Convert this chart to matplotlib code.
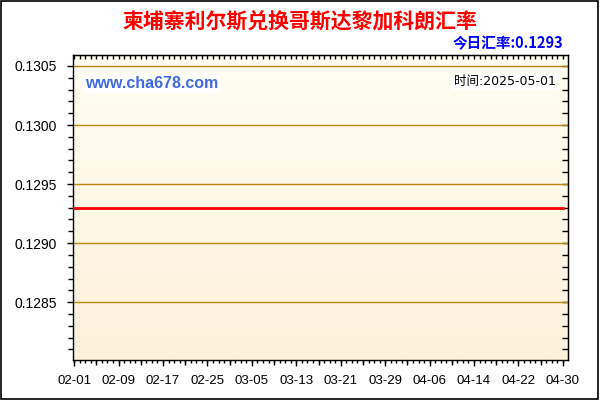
import numpy as np
import pandas as pd
import matplotlib
matplotlib.use("Agg")
import matplotlib.pyplot as plt
from matplotlib.ticker import MultipleLocator

# daily rate, 2025-02-01 .. 2025-04-30
dates = pd.date_range("2025-02-01", "2025-04-30", freq="D")
rate_feb = [0.1293, 0.1293, 0.1293, 0.1293, 0.1293, 0.1293, 0.1293,
            0.1293, 0.1293, 0.1293, 0.1293, 0.1293, 0.1293, 0.1293,
            0.1293, 0.1293, 0.1293, 0.1293, 0.1293, 0.1293, 0.1293,
            0.1293, 0.1293, 0.1293, 0.1293, 0.1293, 0.1293, 0.1293]
rate_mar = [0.1293, 0.1293, 0.1293, 0.1293, 0.1293, 0.1293, 0.1293,
            0.1293, 0.1293, 0.1293, 0.1293, 0.1293, 0.1293, 0.1293,
            0.1293, 0.1293, 0.1293, 0.1293, 0.1293, 0.1293, 0.1293,
            0.1293, 0.1293, 0.1293, 0.1293, 0.1293, 0.1293, 0.1293,
            0.1293, 0.1293, 0.1293]
rate_apr = [0.1293, 0.1293, 0.1293, 0.1293, 0.1293, 0.1293, 0.1293,
            0.1293, 0.1293, 0.1293, 0.1293, 0.1293, 0.1293, 0.1293,
            0.1293, 0.1293, 0.1293, 0.1293, 0.1293, 0.1293, 0.1293,
            0.1293, 0.1293, 0.1293, 0.1293, 0.1293, 0.1293, 0.1293,
            0.1293, 0.1293]
rates = rate_feb + rate_mar + rate_apr

title = "柬埔寨利尔斯兑换哥斯达黎加科朗汇率"
today_text = "今日汇率:0.1293"
site_text = "www.cha678.com"
date_text = "时间:2025-05-01"
y_ticks = [0.1285, 0.1290, 0.1295, 0.1300, 0.1305]

cjk = ["Noto Sans CJK SC", "DejaVu Sans"]

fig = plt.figure(figsize=(6, 4), dpi=100)
fig.patch.set_facecolor("white")
# outer black frame
fig.add_artist(plt.Rectangle((0.002, 0.003), 0.995, 0.994, transform=fig.transFigure,
                             fill=False, edgecolor="black", linewidth=1.2))

ax = fig.add_axes([73 / 600, 1 - 360 / 400, 495 / 600, 305 / 400])

# soft cream gradient background
c_top = np.array([255, 254, 243]) / 255
c_bot = np.array([253, 241, 218]) / 255
t = np.linspace(0, 1, 256)[:, None]
grad = (c_top * (1 - t) + c_bot * t)[:, None, :]
ax.imshow(grad, extent=[0, 1, 0, 1], transform=ax.transAxes, aspect="auto", zorder=0)

for yv in y_ticks:
    ax.axhline(yv, color="#B8860B", linewidth=1, zorder=1)

ax.plot(dates, rates, color="#FF0000", linewidth=2, zorder=3)

ax.set_xlim(dates[0] - pd.Timedelta(hours=5), dates[-1] + pd.Timedelta(hours=22))
ax.set_ylim(0.12801, 0.130593)

ax.set_yticks(y_ticks)
ax.set_yticklabels([f"{v:.4f}" for v in y_ticks])
ax.yaxis.set_minor_locator(MultipleLocator(0.0001))

xt = dates[::8]
ax.set_xticks(xt)
ax.set_xticklabels([d.strftime("%m-%d") for d in xt])
# longer ticks every 4 days
ax.set_xticks(dates[::4], minor=True)

for s in ax.spines.values():
    s.set_color("black")
    s.set_linewidth(1)

ax.tick_params(axis="both", which="major", direction="out", length=4.5, width=1,
               colors="black")
ax.tick_params(axis="both", which="minor", direction="out", length=3.5, width=1)
ax.tick_params(axis="y", which="major", labelsize=10, pad=7)
ax.tick_params(axis="x", which="major", labelsize=9.5, pad=6)
for lab in ax.get_xticklabels() + ax.get_yticklabels():
    lab.set_family("Liberation Sans")

# daily small ticks along bottom
bot = ax.secondary_xaxis("bottom")
bot.set_xticks(dates)
bot.tick_params(direction="out", length=2.5, width=1, labelbottom=False)
bot.spines["bottom"].set_visible(False)

# inward ticks on top and right
top = ax.secondary_xaxis("top")
top.set_xticks(dates)
top.tick_params(direction="in", length=3, width=1, labeltop=False)
right = ax.secondary_yaxis("right")
right.yaxis.set_major_locator(MultipleLocator(0.0001))
right.tick_params(direction="in", length=4, width=1, labelright=False)

fig.text(0.5, 1 - 21 / 400, title, ha="center", va="center", color="#FF0000",
         fontsize=15, fontweight="bold", family=cjk)
fig.text(563 / 600, 1 - 43 / 400, today_text, ha="right", va="center", color="#0000FF",
         fontsize=10.5, fontweight="bold", family=cjk)
ax.text(0.024, 0.905, site_text, transform=ax.transAxes, ha="left", va="center",
        color="#4169E1", fontsize=11.5, fontweight="bold", family="Liberation Sans",
        bbox=dict(facecolor="white", edgecolor="none", pad=1), zorder=4)
ax.text(0.975, 0.912, date_text, transform=ax.transAxes, ha="right", va="center",
        color="black", fontsize=9, family=["DejaVu Sans", "Noto Sans CJK SC"],
        bbox=dict(facecolor="white", edgecolor="none", pad=1), zorder=4)

fig.savefig("out.png", dpi=100)
